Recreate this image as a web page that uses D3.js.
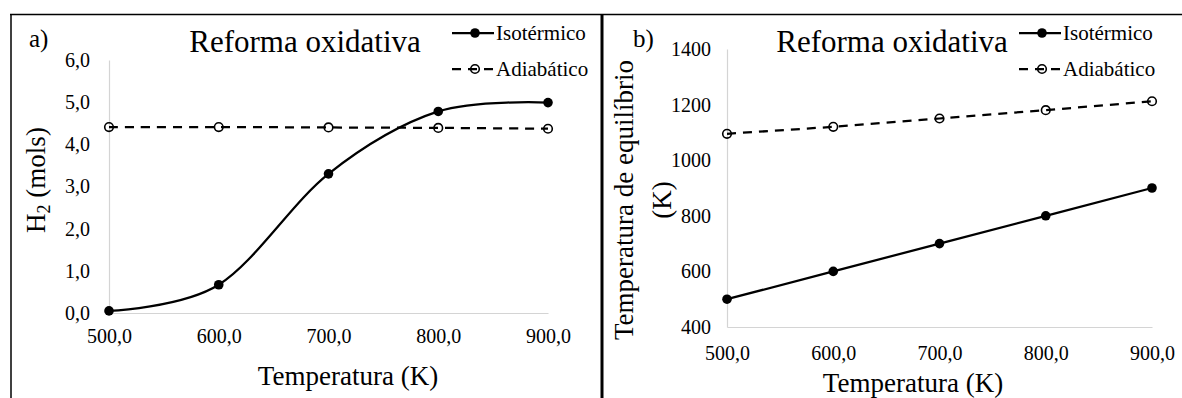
<!DOCTYPE html>
<html><head><meta charset="utf-8">
<script src="https://cdn.jsdelivr.net/npm/d3@7"></script>
</head><body style="margin:0">
<svg id="c" width="1182" height="398" font-family="Liberation Serif"></svg>
<script>
// ---- data ----
const temps = [500, 600, 700, 800, 900];
const xTickLabels = ["500,0", "600,0", "700,0", "800,0", "900,0"];
const h2Isotermico = [0.05, 0.67, 3.30, 4.78, 4.99];
const h2Adiabatico = [4.41, 4.41, 4.40, 4.39, 4.37];
const tIsotermico = [500, 600, 700, 800, 900];
const tAdiabatico = [1095, 1120, 1150, 1180, 1212];
const yTicksA = [0, 1, 2, 3, 4, 5, 6];
const yTicksB = [400, 600, 800, 1000, 1200, 1400];
const seriesNames = ["Isotérmico", "Adiabático"];

const svg = d3.select("#c");
const fmtComma = d => d.toFixed(1).replace(".", ",");
function txt(sel, size) {
  return sel.attr("font-family", "Liberation Serif").style("font-family", "'Liberation Serif'")
    .style("font-size", size + "px").attr("fill", "#000");
}

// frame
svg.append("line").attr("x1", 10).attr("x2", 1182).attr("y1", 14.5).attr("y2", 14.5).attr("stroke", "#000").attr("stroke-width", 1.5);
svg.append("line").attr("x1", 11).attr("x2", 11).attr("y1", 14).attr("y2", 398).attr("stroke", "#000").attr("stroke-width", 1.5);
svg.append("line").attr("x1", 602).attr("x2", 602).attr("y1", 14).attr("y2", 398).attr("stroke", "#000").attr("stroke-width", 3);

function panel(cfg) {
  const x = d3.scaleLinear().domain([500, 900]).range([cfg.x0, cfg.x1]);
  const y = d3.scaleLinear().domain(cfg.ydom).range([cfg.yBot, cfg.yTop]);
  const g = svg.append("g");

  const ax = g.append("g").attr("transform", `translate(0,${cfg.yBot})`)
    .call(d3.axisBottom(x).tickValues(temps).tickFormat((d, i) => xTickLabels[i]).tickSize(0).tickPadding(cfg.xPad));
  ax.attr("font-family", "Liberation Serif").attr("font-size", 20);
  ax.select(".domain").attr("stroke", "#d4d4d4").attr("stroke-width", 1.2);
  txt(ax.selectAll("text"), 20);

  const ay = g.append("g").attr("transform", `translate(${cfg.x0},0)`)
    .call(d3.axisLeft(y).tickValues(cfg.yTicks).tickFormat(cfg.yFmt).tickSize(0).tickPadding(cfg.yPad));
  ay.attr("font-family", "Liberation Serif").attr("font-size", 20);
  ay.select(".domain").attr("stroke", "#d4d4d4").attr("stroke-width", 1.2);
  txt(ay.selectAll("text"), 20);

  const lineGen = d3.line().x((d, i) => x(temps[i])).y(d => y(d)).curve(cfg.curve);
  // adiabatic dashed
  g.append("path").attr("d", lineGen(cfg.adi)).attr("fill", "none").attr("stroke", "#000")
    .attr("stroke-width", 2.25).attr("stroke-dasharray", "9,7");
  g.selectAll(".ma").data(cfg.adi).enter().append("circle")
    .attr("cx", (d, i) => x(temps[i])).attr("cy", d => y(d)).attr("r", 4.3)
    .attr("fill", "none").attr("stroke", "#000").attr("stroke-width", 1.6);
  // isothermal solid
  g.append("path").attr("d", lineGen(cfg.iso)).attr("fill", "none").attr("stroke", "#000").attr("stroke-width", 2.25);
  g.selectAll(".mi").data(cfg.iso).enter().append("circle")
    .attr("cx", (d, i) => x(temps[i])).attr("cy", d => y(d)).attr("r", 4.8).attr("fill", "#000");

  // title
  txt(g.append("text").attr("x", cfg.titleX).attr("y", 52).attr("text-anchor", "middle"), 31).text("Reforma oxidativa");
  // panel letter
  txt(g.append("text").attr("x", cfg.letterX).attr("y", 47), 25).text(cfg.letter);
  // x title
  txt(g.append("text").attr("x", cfg.xtX).attr("y", cfg.xtY).attr("text-anchor", "middle"), 27).text("Temperatura (K)");

  // legend
  const lg = g.append("g");
  const l0 = cfg.legX, l1 = cfg.legX + 42, lm = cfg.legX + 23;
  lg.append("line").attr("x1", l0).attr("x2", l1).attr("y1", 33).attr("y2", 33).attr("stroke", "#000").attr("stroke-width", 2.25);
  lg.append("circle").attr("cx", lm).attr("cy", 33).attr("r", 4.8).attr("fill", "#000");
  lg.append("line").attr("x1", l0).attr("x2", l1).attr("y1", 69).attr("y2", 69).attr("stroke", "#000").attr("stroke-width", 2.25).attr("stroke-dasharray", "9,7");
  lg.append("circle").attr("cx", lm).attr("cy", 69).attr("r", 4.3).attr("fill", "none").attr("stroke", "#000").attr("stroke-width", 1.6);
  txt(lg.append("text").attr("x", l1 + 2).attr("y", 40), 21).text(seriesNames[0]);
  txt(lg.append("text").attr("x", l1 + 2).attr("y", 76), 21).text(seriesNames[1]);
  return g;
}

const gA = panel({
  x0: 109, x1: 548, yTop: 60, yBot: 313, ydom: [0, 6], yTicks: yTicksA, yFmt: fmtComma,
  xPad: 16, yPad: 19, iso: h2Isotermico, adi: h2Adiabatico, curve: d3.curveCardinal.tension(0),
  titleX: 305, letter: "a)", letterX: 29, xtX: 348, xtY: 385, legX: 452
});
// y title A with subscript
const ytA = txt(gA.append("text").attr("transform", "translate(45,180) rotate(-90)").attr("text-anchor", "middle"), 27);
ytA.append("tspan").text("H");
ytA.append("tspan").attr("dy", 5).style("font-size", "18px").text("2");
ytA.append("tspan").attr("dy", -5).text(" (mols)");

const gB = panel({
  x0: 727, x1: 1152, yTop: 49, yBot: 327, ydom: [400, 1400], yTicks: yTicksB, yFmt: d => String(d),
  xPad: 19, yPad: 16, iso: tIsotermico, adi: tAdiabatico, curve: d3.curveLinear,
  titleX: 892, letter: "b)", letterX: 633, xtX: 913, xtY: 392, legX: 1019
});
txt(gB.append("text").attr("transform", "translate(633,200) rotate(-90)").attr("text-anchor", "middle"), 27).text("Temperatura de equilíbrio");
txt(gB.append("text").attr("transform", "translate(671,200) rotate(-90)").attr("text-anchor", "middle"), 27).text("(K)");
</script>
</body></html>
